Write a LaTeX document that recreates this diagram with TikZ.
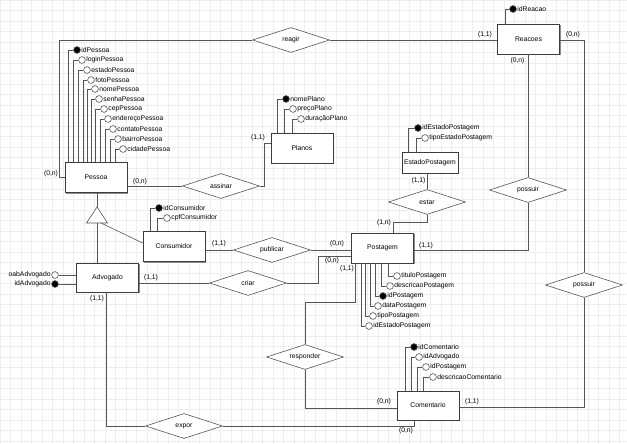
\documentclass[tikz,border=0pt]{standalone}
\usepackage{fontspec}
\setmainfont{Liberation Sans}
\usetikzlibrary{shapes.geometric,shadows}
\definecolor{lc}{HTML}{555555}
\definecolor{bc}{HTML}{3C3C3C}
\definecolor{gridc}{HTML}{EEEEEE}
\newcommand{\fs}{\fontsize{6.8}{8}\selectfont}
\tikzset{
 ln/.style={draw=lc, line width=0.6pt},
 ent/.style={draw=bc, line width=0.7pt, fill=white, minimum width=62pt, minimum height=30pt, inner sep=0pt, font=\fs,
   drop shadow={shadow xshift=1.3pt, shadow yshift=-1.3pt, fill=black!45, opacity=1}},
 rel/.style={diamond, draw=lc, line width=0.6pt, fill=white, minimum width=77pt, minimum height=25pt, aspect=3, inner sep=0pt, font=\fs},
 att/.style={circle, draw=lc, line width=0.6pt, fill=white, minimum size=6.8pt, inner sep=0pt, label distance=2.2pt},
 lbl/.style={font=\fs, inner sep=0.5pt},
 card/.style={font=\fs, inner sep=0pt}
}
\begin{document}
\begin{tikzpicture}[x=1pt,y=-1pt]
\useasboundingbox (0,0) rectangle (627,444);
\fill[white] (0,0) rectangle (627,444);
\foreach \i in {0,...,60} {\draw[gridc, line width=0.4pt] (\i*10.5,0) -- (\i*10.5,444);}
\foreach \i in {0,...,43} {\draw[gridc, line width=0.4pt] (0,\i*10.5) -- (627,\i*10.5);}

% entities
\node[ent] (pessoa) at (96,177.5) {Pessoa};
\node[ent] (reacoes) at (528.5,39) {Reacoes};
\node[ent] (planos) at (302,148) {Planos};
\node[ent, minimum width=56pt, minimum height=21pt] (estado) at (430,162.5) {EstadoPostagem};
\node[ent] (postagem) at (382.5,248) {Postagem};
\node[ent] (consumidor) at (174,246.5) {Consumidor};
\node[ent, minimum height=29pt] (advogado) at (107.5,277.5) {Advogado};
\node[ent, minimum height=29pt] (comentario) at (428,405.5) {Comentario};

% relationships
\node[rel] (reagir) at (291,40) {reagir};
\node[rel] (assinar) at (221,186) {assinar};
\node[rel] (possuirA) at (528,190) {possuir};
\node[rel] (estar) at (427,202) {estar};
\node[rel] (publicar) at (272,250) {publicar};
\node[rel] (criar) at (248,283) {criar};
\node[rel] (possuirB) at (584,285) {possuir};
\node[rel] (responder) at (305,357) {responder};
\node[rel] (expor) at (184,426) {expor};

% Pessoa attributes
\foreach \cx/\cy/\t/\f/\s [count=\i] in {77/50/idPessoa/black/4, 82/60/loginPessoa/white/9, 87/70/estadoPessoa/white/14, 91/80/fotoPessoa/white/19, 95/89/nomePessoa/white/23, 99/99/senhaPessoa/white/27, 104/109/cepPessoa/white/31, 108/119/endereçoPessoa/white/36, 113/129/contatoPessoa/white/41, 118/139/bairroPessoa/white/46, 123/149/cidadePessoa/white/51}{
  \node[att, fill=\f, label={[lbl]right:\t}] (pa\i) at (\cx,\cy) {};
  \draw[ln] (pa\i.west) -| ([xshift=\s pt]pessoa.north west);
}
% Planos attributes
\foreach \cx/\cy/\t/\f/\s [count=\i] in {286/99/nomePlano/black/7, 293/109/preçoPlano/white/14, 301/119/duraçãoPlano/white/22}{
  \node[att, fill=\f, label={[lbl]right:\t}] (pl\i) at (\cx,\cy) {};
  \draw[ln] (pl\i.west) -| ([xshift=\s pt]planos.north west);
}
% EstadoPostagem attributes
\foreach \cx/\cy/\t/\f/\s [count=\i] in {418/128/idEstadoPostagem/black/7, 425/138/tipoEstadoPostagem/white/15}{
  \node[att, fill=\f, label={[lbl]right:\t}] (ep\i) at (\cx,\cy) {};
  \draw[ln] (ep\i.west) -| ([xshift=\s pt]estado.north west);
}
% Reacoes attribute
\node[att, fill=black, label={[lbl]right:idReacao}] (re1) at (513,9) {};
\draw[ln] (re1.west) -| ([xshift=8pt]reacoes.north west);
% Consumidor attributes
\foreach \cx/\cy/\t/\f/\s [count=\i] in {159/208/idConsumidor/black/8, 167/218/cpfConsumidor/white/15}{
  \node[att, fill=\f, label={[lbl]right:\t}] (co\i) at (\cx,\cy) {};
  \draw[ln] (co\i.west) -| ([xshift=\s pt]consumidor.north west);
}
% Postagem attributes
\foreach \cx/\cy/\t/\f/\s [count=\i] in {397/276/tituloPostagem/white/37, 390/286/descricaoPostagem/white/30, 383/296/idPostagem/black/24, 378/306/dataPostagem/white/19, 373/316/tipoPostagem/white/14, 369/326/idEstadoPostagem/white/10}{
  \node[att, fill=\f, label={[lbl]right:\t}] (po\i) at (\cx,\cy) {};
  \draw[ln] (po\i.west) -| ([xshift=\s pt]postagem.south west);
}
% Comentario attributes
\foreach \cx/\cy/\t/\f/\s [count=\i] in {414/347/idComentario/black/9, 419/357/idAdvogado/white/15, 426/367/idPostagem/white/21, 433/377/descricaoComentario/white/27}{
  \node[att, fill=\f, label={[lbl]right:\t}] (cm\i) at (\cx,\cy) {};
  \draw[ln] (cm\i.west) -| ([xshift=\s pt]comentario.north west);
}
% Advogado attributes
\node[att, label={[lbl]left:oabAdvogado}] (ad1) at (55,275) {};
\node[att, fill=black, label={[lbl]left:idAdvogado}] (ad2) at (55,284) {};
\draw[ln] (ad1.east) -- (ad1.east -| advogado.west);
\draw[ln] (ad2.east) -- (ad2.east -| advogado.west);

% inheritance
\coordinate (triA) at (97,207);
\coordinate (triL) at (86.5,223);
\coordinate (triR) at (107.5,223);
\coordinate (triB) at (97,223);
\coordinate (triC) at (101,223);
\draw[ln] (pessoa.south -| triA) -- (triA);
\draw[ln, fill=white] (triA) -- (triL) -- (triR) -- cycle;
\draw[ln] (triB) -- (triB |- advogado.north);
\draw[ln] (triC) -- ([yshift=3.5pt]consumidor.west);

% connectors
\draw[ln] (pessoa.west) -- ++(-5,0) |- (reagir.west);
\draw[ln] (reagir.east) -- (reagir.east -| reacoes.west);
\draw[ln] (reacoes.south -| possuirA.north) -- (possuirA.north);
\draw[ln] (possuirA.south) |- ([yshift=-2pt]postagem.east);
\draw[ln] ([yshift=-1pt]reacoes.east) -| (possuirB.north);
\draw[ln] (possuirB.south) |- ([yshift=-1.5pt]comentario.east);
\draw[ln] (assinar.west) -- (assinar.west -| pessoa.east);
\draw[ln] (assinar.east) -| ([xshift=-6pt,yshift=4.5pt]planos.west) -- ([yshift=4.5pt]planos.west);
\draw[ln] (estar.north) -- (estar.north |- estado.south);
\draw[ln] (estar.south) |- ([xshift=10.5pt,yshift=10pt]postagem.north) -- ([xshift=10.5pt]postagem.north);
\draw[ln] (publicar.west) -- (publicar.west -| consumidor.east);
\draw[ln] (publicar.east) -- (publicar.east -| postagem.west);
\draw[ln] (criar.west) -- (criar.west -| advogado.east);
\draw[ln] (criar.east) -| ([xshift=-33pt,yshift=-8pt]postagem.west) -- ([yshift=-8pt]postagem.west);
\draw[ln] ([xshift=4pt]postagem.south west) -- ++(0,39) -| (responder.north);
\draw[ln] (responder.south) |- ([yshift=-2.5pt]comentario.west);
\draw[ln] ([xshift=-1.5pt]advogado.south) |- (expor.west);
\draw[ln] (expor.east) -| ([xshift=18pt]comentario.south west);

% cardinalities
\node[card] (k1) at (51,174) {(0,n)};
\node[card] (k2) at (140,182) {(0,n)};
\node[card] (k3) at (258,138) {(1,1)};
\node[card] (k4) at (485,35) {(1,1)};
\node[card] (k5) at (573,35) {(0,n)};
\node[card] (k6) at (517.5,61) {(0,n)};
\node[card] (k7) at (418.5,181) {(1,1)};
\node[card] (k8) at (384,223) {(1,n)};
\node[card] (k9) at (426,246) {(1,1)};
\node[card] (k10) at (219,244) {(1,1)};
\node[card] (k11) at (337,244) {(0,n)};
\node[card] (k12) at (151,278) {(1,1)};
\node[card] (k13) at (332,261) {(0,n)};
\node[card] (k14) at (347,269) {(1,1)};
\node[card] (k15) at (97,299) {(1,1)};
\node[card] (k16) at (384,402) {(0,n)};
\node[card] (k17) at (472,402) {(1,1)};
\node[card] (k18) at (406,431) {(0,n)};
\end{tikzpicture}
\end{document}
